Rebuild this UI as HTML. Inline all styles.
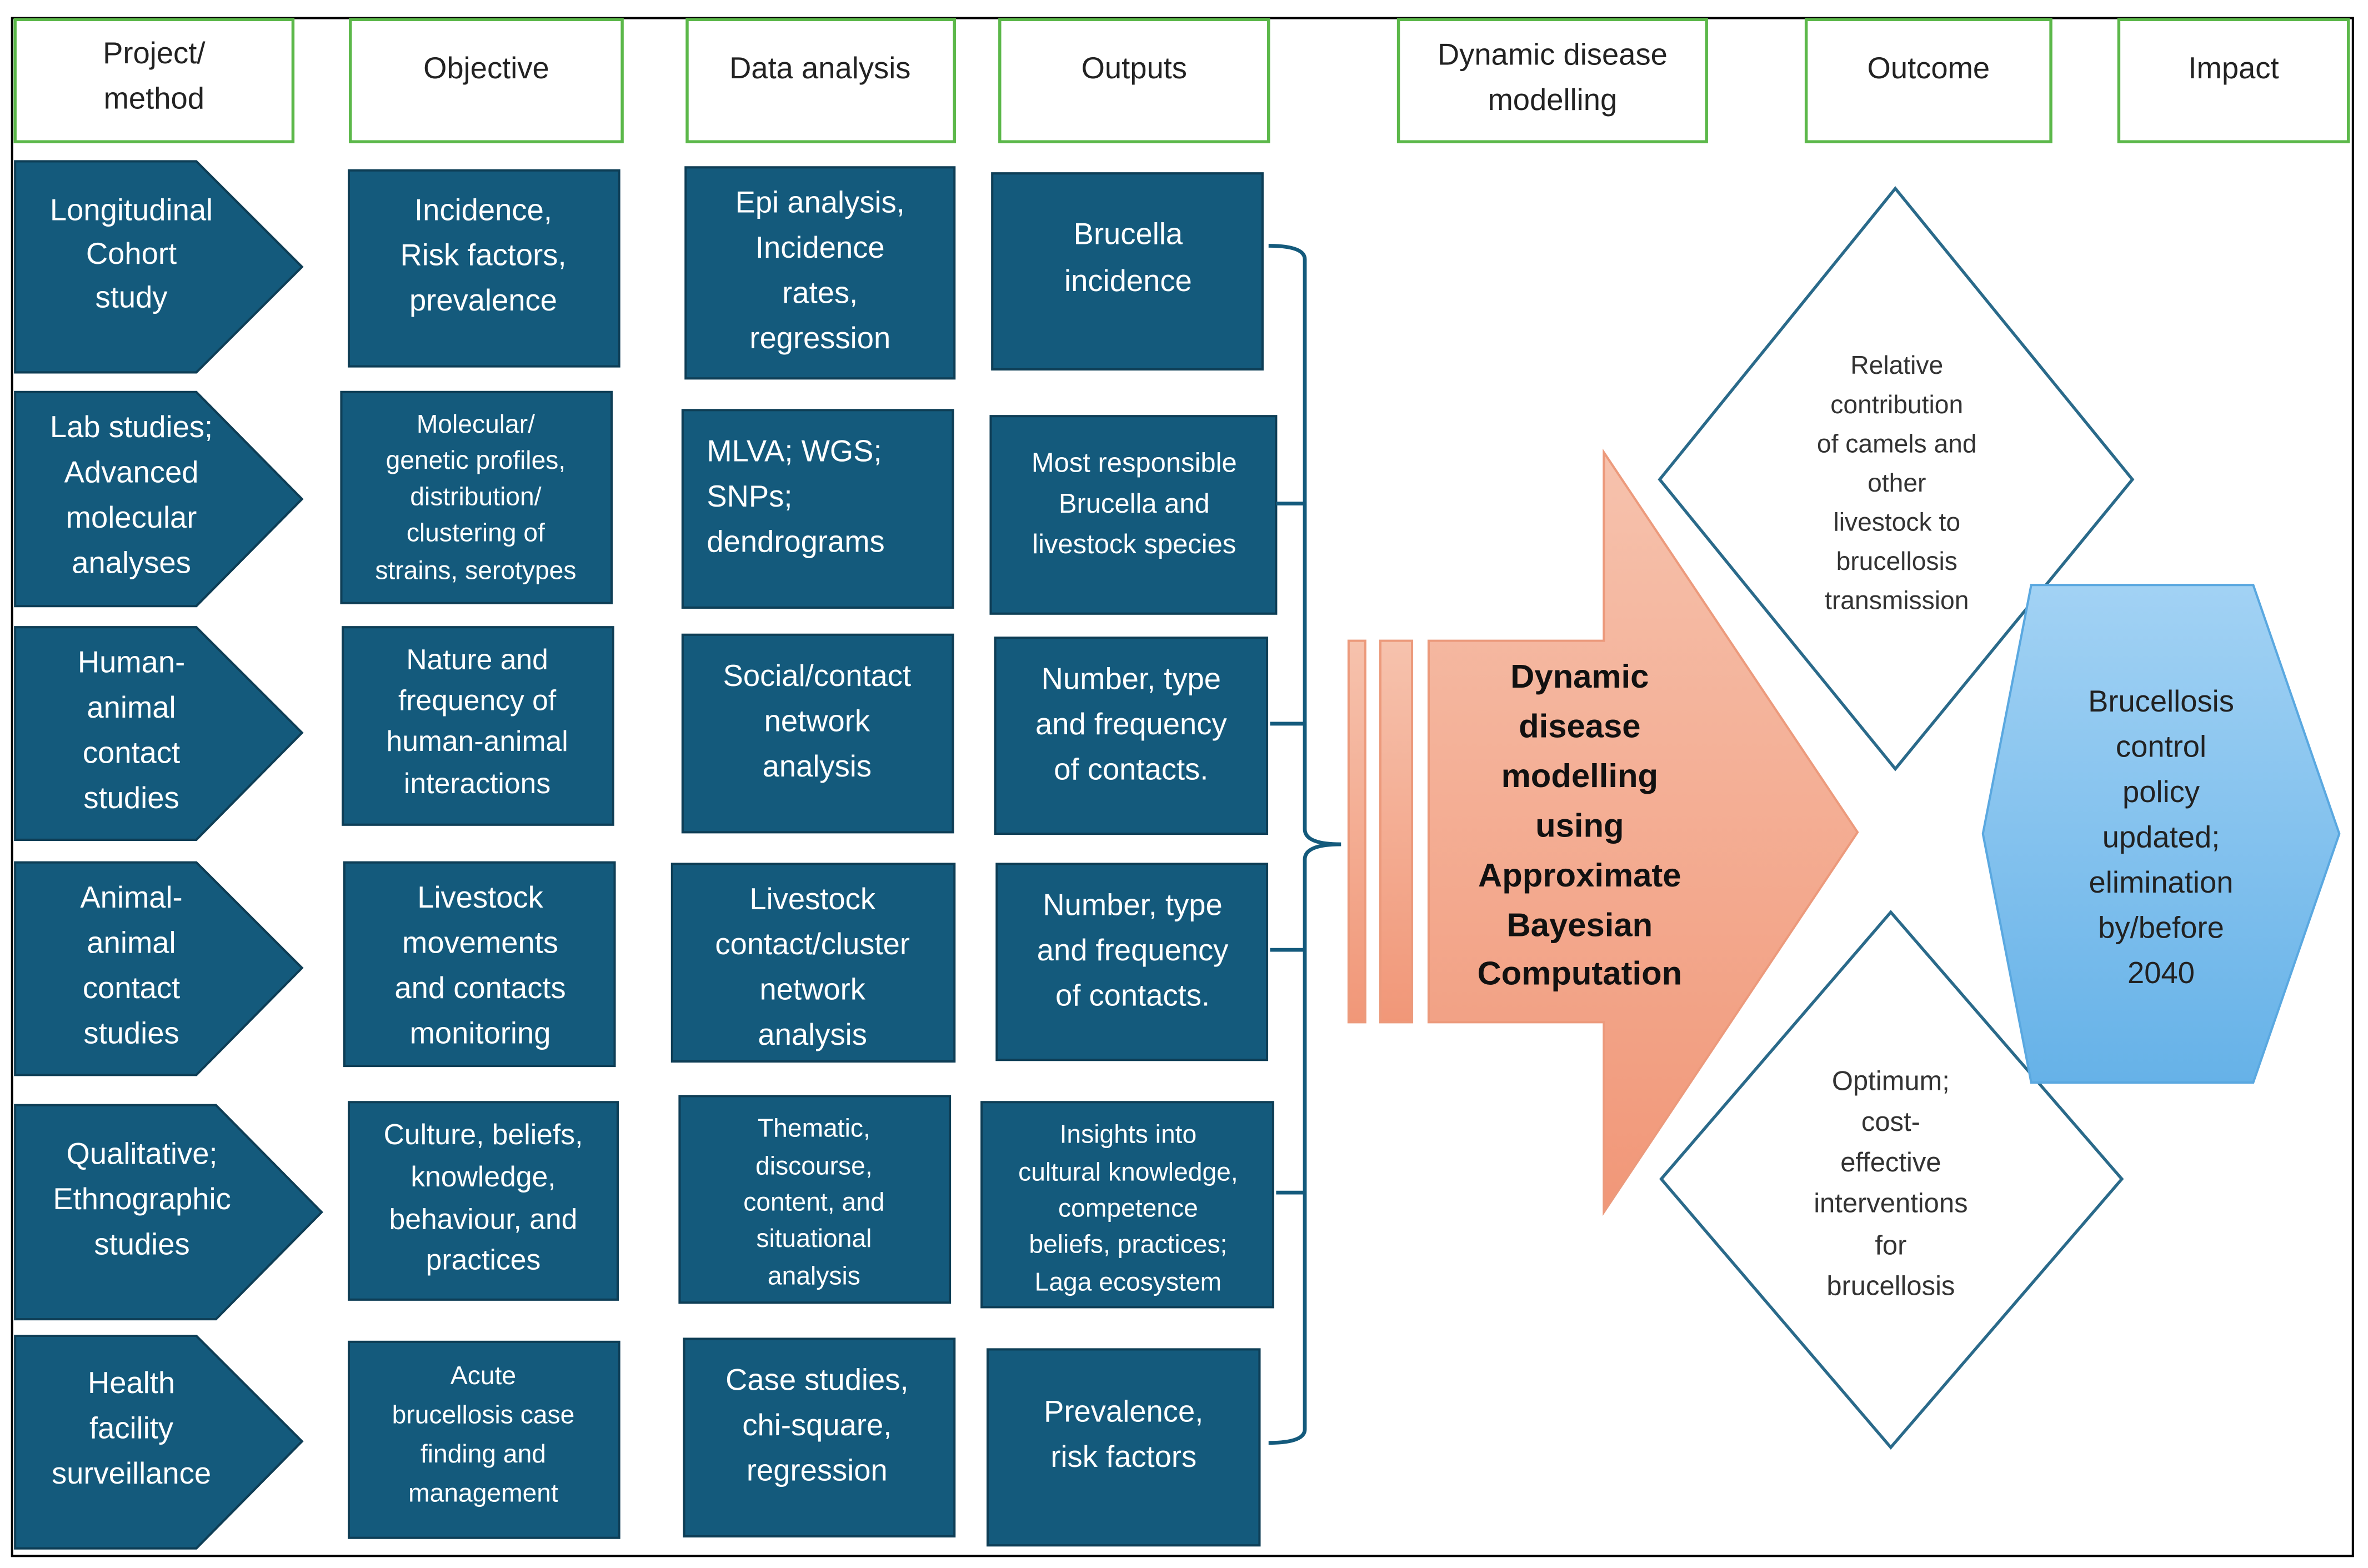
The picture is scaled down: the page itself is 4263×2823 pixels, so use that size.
<!DOCTYPE html>
<html><head><meta charset="utf-8"><style>html,body{margin:0;padding:0;background:#fff}svg{display:block}</style></head><body>
<svg width="4263" height="2823" viewBox="0 0 1568 1040" preserveAspectRatio="none" xmlns="http://www.w3.org/2000/svg" font-family="Liberation Sans, sans-serif">
<defs>
<linearGradient id="og" x1="0" y1="0" x2="0" y2="1"><stop offset="0" stop-color="#f6c2ad"/><stop offset="1" stop-color="#f19778"/></linearGradient>
<linearGradient id="bg" x1="0" y1="0" x2="0" y2="1"><stop offset="0" stop-color="#a2d2f4"/><stop offset="1" stop-color="#66b2e8"/></linearGradient>
</defs>
<rect x="0" y="0" width="1568" height="1040" fill="#fff"/>
<rect x="8" y="12" width="1550" height="1020" fill="none" stroke="#000" stroke-width="1.5"/>
<g fill="#fff" stroke="#5cb84a" stroke-width="2">
<rect x="10" y="13" width="184" height="81"/><rect x="232" y="13" width="180" height="81"/><rect x="455" y="13" width="177" height="81"/><rect x="662" y="13" width="178" height="81"/><rect x="926" y="13" width="204" height="81"/><rect x="1196" y="13" width="162" height="81"/><rect x="1403" y="13" width="152" height="81"/>
</g>
<g font-size="20" fill="#222" text-anchor="middle">
<text x="102" y="42">Project/</text><text x="102" y="72">method</text>
<text x="322" y="52">Objective</text><text x="543" y="52">Data analysis</text><text x="751" y="52">Outputs</text>
<text x="1028" y="43">Dynamic disease</text><text x="1028" y="73">modelling</text>
<text x="1277" y="52">Outcome</text><text x="1479" y="52">Impact</text>
</g>
<g fill="#145a7c" stroke="#0e3e56" stroke-width="1.5">
<polygon points="10,107 130,107 200,177 130,247 10,247"/>
<polygon points="10,260 130,260 200,331 130,402 10,402"/>
<polygon points="10,416 130,416 200,486 130,557 10,557"/>
<polygon points="10,572 130,572 200,642 130,713 10,713"/>
<polygon points="10,733 143,733 213,804 143,875 10,875"/>
<polygon points="10,886 130,886 200,956 130,1027 10,1027"/>
<rect x="231" y="113" width="179" height="130"/><rect x="226" y="260" width="179" height="140"/><rect x="227" y="416" width="179" height="131"/><rect x="228" y="572" width="179" height="135"/><rect x="231" y="731" width="178" height="131"/><rect x="231" y="890" width="179" height="130"/>
<rect x="454" y="111" width="178" height="140"/><rect x="452" y="272" width="179" height="131"/><rect x="452" y="421" width="179" height="131"/><rect x="445" y="573" width="187" height="131"/><rect x="450" y="727" width="179" height="137"/><rect x="453" y="888" width="179" height="131"/>
<rect x="657" y="115" width="179" height="130"/><rect x="656" y="276" width="189" height="131"/><rect x="659" y="423" width="180" height="130"/><rect x="660" y="573" width="179" height="130"/><rect x="650" y="731" width="193" height="136"/><rect x="654" y="895" width="180" height="130"/>
</g>
<g fill="#fff" text-anchor="middle" font-size="20">
<text x="87" y="146">Longitudinal</text><text x="87" y="175">Cohort</text><text x="87" y="204">study</text>
<text x="87" y="290">Lab studies;</text><text x="87" y="320">Advanced</text><text x="87" y="350">molecular</text><text x="87" y="380">analyses</text>
<text x="87" y="446">Human-</text><text x="87" y="476">animal</text><text x="87" y="506">contact</text><text x="87" y="536">studies</text>
<text x="87" y="602">Animal-</text><text x="87" y="632">animal</text><text x="87" y="662">contact</text><text x="87" y="692">studies</text>
<text x="94" y="772">Qualitative;</text><text x="94" y="802">Ethnographic</text><text x="94" y="832">studies</text>
<text x="87" y="924">Health</text><text x="87" y="954">facility</text><text x="87" y="984">surveillance</text>
<text x="320" y="146">Incidence,</text><text x="320" y="176">Risk factors,</text><text x="320" y="206">prevalence</text>
<g font-size="17"><text x="315" y="287">Molecular/</text><text x="315" y="311">genetic profiles,</text><text x="315" y="335">distribution/</text><text x="315" y="359">clustering of</text><text x="315" y="384">strains, serotypes</text></g>
<g font-size="19"><text x="316" y="444">Nature and</text><text x="316" y="471">frequency of</text><text x="316" y="498">human-animal</text><text x="316" y="526">interactions</text></g>
<text x="318" y="602">Livestock</text><text x="318" y="632">movements</text><text x="318" y="662">and contacts</text><text x="318" y="692">monitoring</text>
<g font-size="19"><text x="320" y="759">Culture, beliefs,</text><text x="320" y="787">knowledge,</text><text x="320" y="815">behaviour, and</text><text x="320" y="842">practices</text></g>
<g font-size="17"><text x="320" y="918">Acute</text><text x="320" y="944">brucellosis case</text><text x="320" y="970">finding and</text><text x="320" y="996">management</text></g>
<text x="543" y="141">Epi analysis,</text><text x="543" y="171">Incidence</text><text x="543" y="201">rates,</text><text x="543" y="231">regression</text>
<g text-anchor="start"><text x="468" y="306">MLVA; WGS;</text><text x="468" y="336">SNPs;</text><text x="468" y="366">dendrograms</text></g>
<text x="541" y="455">Social/contact</text><text x="541" y="485">network</text><text x="541" y="515">analysis</text>
<text x="538" y="603">Livestock</text><text x="538" y="633">contact/cluster</text><text x="538" y="663">network</text><text x="538" y="693">analysis</text>
<g font-size="17"><text x="539" y="754">Thematic,</text><text x="539" y="779">discourse,</text><text x="539" y="803">content, and</text><text x="539" y="827">situational</text><text x="539" y="852">analysis</text></g>
<text x="541" y="922">Case studies,</text><text x="541" y="952">chi-square,</text><text x="541" y="982">regression</text>
<text x="747" y="162">Brucella</text><text x="747" y="193">incidence</text>
<g font-size="18"><text x="751" y="313">Most responsible</text><text x="751" y="340">Brucella and</text><text x="751" y="367">livestock species</text></g>
<text x="749" y="457">Number, type</text><text x="749" y="487">and frequency</text><text x="749" y="517">of contacts.</text>
<text x="750" y="607">Number, type</text><text x="750" y="637">and frequency</text><text x="750" y="667">of contacts.</text>
<g font-size="17"><text x="747" y="758">Insights into</text><text x="747" y="783">cultural knowledge,</text><text x="747" y="807">competence</text><text x="747" y="831">beliefs, practices;</text><text x="747" y="856">Laga ecosystem</text></g>
<text x="744" y="943">Prevalence,</text><text x="744" y="973">risk factors</text>
</g>
<path d="M840,163 Q864,163 864,172 L864,550 Q864,560 888,560 Q864,560 864,570 L864,948 Q864,957 840,957" fill="none" stroke="#145a7c" stroke-width="2.5"/>
<g stroke="#145a7c" stroke-width="2.5"><line x1="845" y1="334" x2="864" y2="334"/><line x1="841" y1="480" x2="864" y2="480"/><line x1="841" y1="630" x2="864" y2="630"/><line x1="845" y1="791" x2="864" y2="791"/></g>
<g fill="url(#og)" stroke="#ec9a7c" stroke-width="1.5">
<rect x="893" y="425" width="11" height="253"/><rect x="914" y="425" width="21" height="253"/>
<polygon points="946,425 1062,425 1062,300 1230,552 1062,804 1062,678 946,678"/>
</g>
<g font-size="22" font-weight="bold" fill="#111" text-anchor="middle">
<text x="1046" y="456">Dynamic</text><text x="1046" y="489">disease</text><text x="1046" y="522">modelling</text><text x="1046" y="555">using</text><text x="1046" y="588">Approximate</text><text x="1046" y="621">Bayesian</text><text x="1046" y="653">Computation</text>
</g>
<g fill="#fff" stroke="#2a6a8a" stroke-width="2">
<polygon points="1255,125 1412,318 1255,510 1099,318"/>
<polygon points="1252,605 1405,782 1252,960 1100,782"/>
</g>
<g font-size="17" fill="#333" text-anchor="middle">
<text x="1256" y="248">Relative</text><text x="1256" y="274">contribution</text><text x="1256" y="300">of camels and</text><text x="1256" y="326">other</text><text x="1256" y="352">livestock to</text><text x="1256" y="378">brucellosis</text><text x="1256" y="404">transmission</text>
<text x="1252" y="723" font-size="18">Optimum;</text><text x="1252" y="750" font-size="18">cost-</text><text x="1252" y="777" font-size="18">effective</text><text x="1252" y="804" font-size="18">interventions</text><text x="1252" y="832" font-size="18">for</text><text x="1252" y="859" font-size="18">brucellosis</text>
</g>
<polygon points="1345,388 1492,388 1549,553 1492,718 1345,718 1313,553" fill="url(#bg)" stroke="#5aa8e0" stroke-width="1.5"/>
<g font-size="20" fill="#222" text-anchor="middle">
<text x="1431" y="472">Brucellosis</text><text x="1431" y="502">control</text><text x="1431" y="532">policy</text><text x="1431" y="562">updated;</text><text x="1431" y="592">elimination</text><text x="1431" y="622">by/before</text><text x="1431" y="652">2040</text>
</g>
</svg>
</body></html>
